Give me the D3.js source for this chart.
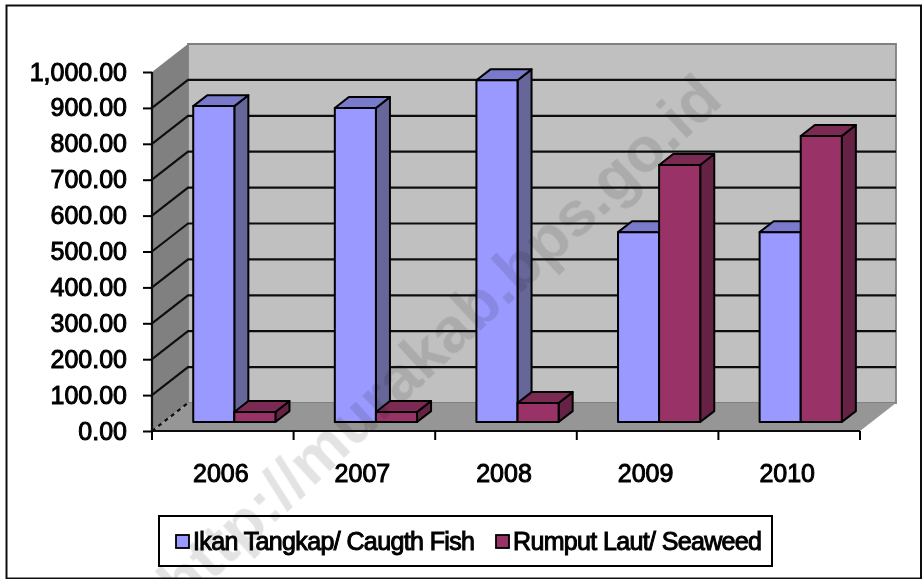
<!DOCTYPE html>
<html>
<head>
<meta charset="utf-8">
<script src="https://cdn.jsdelivr.net/npm/d3@7"></script>
<style>
  html, body { margin: 0; padding: 0; background: #fff; }
  svg { display: block; }
  text { font-family: "Liberation Sans", Arial, sans-serif; }
</style>
</head>
<body>
<div id="chart"></div>
<script>
// values
var categories = ['2006', '2007', '2008', '2009', '2010'];
var seriesNames = ['Ikan Tangkap/ Caugth Fish', 'Rumput Laut/ Seaweed'];
var caughtFish = [880, 875, 952, 529, 529];
var seaweed = [28, 28, 53, 716, 797];
var yTicks = [0, 100, 200, 300, 400, 500, 600, 700, 800, 900, 1000];

var width = 922, height = 579;
var plot = {left: 152, right: 860, top: 72, bottom: 431};
var depth = {dx: 36, dy: -28};      // offset of the back wall
var barDepth = {from: 0.32, to: 0.71};

var colors = [
  {front: '#9999ff', side: '#666699', top: '#7a7acc'},
  {front: '#993366', side: '#662244', top: '#7a2952'}
];

var root = d3.select('#chart').append('svg')
  .attr('width', width)
  .attr('height', height);

// the reference is a slightly soft screenshot
root.append('defs').append('filter')
  .attr('id', 'soft')
  .attr('filterUnits', 'userSpaceOnUse')
  .attr('x', 0).attr('y', 0).attr('width', width).attr('height', height)
  .append('feGaussianBlur').attr('stdDeviation', 0.45);

var svg = root.append('g').attr('filter', 'url(#soft)');

var x = d3.scaleBand().domain(categories).range([plot.left, plot.right]).paddingInner(0).paddingOuter(0);
var y = d3.scaleLinear().domain([0, 1000]).range([plot.bottom, plot.top]);
var inner = d3.scaleBand().domain([0, 1]).range([29.7, x.bandwidth() - 29.7]);

// project a point (px x, value, depth 0..1) on the oblique view
function pt(px, value, d) {
  return [px + depth.dx * d, y(value) + depth.dy * d];
}
function poly(points) {
  return d3.line()(points) + 'Z';
}
function heavy(sel) {
  // the labels are regular Arial thickened by the screenshot
  return sel.attr('fill', '#000')
    .attr('stroke', '#000')
    .attr('stroke-width', 1)
    .style('font-size', '25px')
    .style('font-weight', 'normal');
}

// outer frame
svg.append('rect').attr('width', width).attr('height', height).attr('fill', '#fff');
svg.append('rect')
  .attr('x', 6.5).attr('y', 5.5)
  .attr('width', 914.5).attr('height', 573)
  .attr('fill', '#fff').attr('stroke', '#111').attr('stroke-width', 2);

// walls and floor
var walls = svg.append('g');
walls.append('path')
  .attr('d', poly([pt(plot.left, 1000, 1), pt(plot.right, 1000, 1), pt(plot.right, 0, 1), pt(plot.left, 0, 1)]))
  .attr('fill', '#c0c0c0').attr('stroke', '#808080').attr('stroke-width', 1.8);
walls.append('path')
  .attr('d', poly([pt(plot.left, 1000, 0), pt(plot.left, 1000, 1), pt(plot.left, 0, 1), pt(plot.left, 0, 0)]))
  .attr('fill', '#808080');
walls.append('path')
  .attr('d', poly([pt(plot.left, 0, 0), pt(plot.left, 0, 1), pt(plot.right, 0, 1), pt(plot.right, 0, 0)]))
  .attr('fill', '#969696');

// gridlines on the two walls
var grid = svg.append('g').attr('fill', 'none').attr('stroke', '#111').attr('stroke-width', 2.2);
yTicks.slice(1, -1).forEach(function(v) {
  grid.append('path').attr('d', d3.line()([pt(plot.left, v, 0), pt(plot.left, v, 1), pt(plot.right, v, 1)]));
});
grid.append('path')
  .attr('d', d3.line()([pt(plot.left, 0, 0), pt(plot.left, 0, 1)]))
  .attr('stroke-dasharray', '4 4');

// bars
var seriesValues = [caughtFish, seaweed];
var bars = svg.append('g').attr('stroke', '#000').attr('stroke-width', 2).attr('stroke-linejoin', 'round');
categories.forEach(function(cat, i) {
  [0, 1].forEach(function(s) {
    var v = seriesValues[s][i];
    var x0 = x(cat) + inner(s), x1 = x0 + inner.bandwidth();
    var d0 = barDepth.from, d1 = barDepth.to;
    var g = bars.append('g');
    g.append('path')
      .attr('fill', colors[s].side)
      .attr('d', poly([pt(x1, 0, d0), pt(x1, 0, d1), pt(x1, v, d1), pt(x1, v, d0)]));
    g.append('path')
      .attr('fill', colors[s].top)
      .attr('d', poly([pt(x0, v, d0), pt(x0, v, d1), pt(x1, v, d1), pt(x1, v, d0)]));
    g.append('path')
      .attr('fill', colors[s].front)
      .attr('d', poly([pt(x0, 0, d0), pt(x1, 0, d0), pt(x1, v, d0), pt(x0, v, d0)]));
  });
});

// axes
var yAxis = d3.axisLeft(y).tickValues(yTicks).tickFormat(d3.format(',.2f')).tickSize(9).tickPadding(16);
var xAxis = d3.axisBottom(x).tickSize(0).tickPadding(33);

var gy = svg.append('g').attr('transform', 'translate(' + plot.left + ',0)').call(yAxis);
var gx = svg.append('g').attr('transform', 'translate(0,' + plot.bottom + ')').call(xAxis);
[gy, gx].forEach(function(g) {
  g.selectAll('.domain').attr('stroke', '#111').attr('stroke-width', 2.2);
  g.selectAll('line').attr('stroke', '#000').attr('stroke-width', 2);
  heavy(g.selectAll('text'));
});
gy.selectAll('.domain').attr('d', d3.line()([[0, plot.top], [0, plot.bottom]]));
gx.selectAll('.domain').attr('d', d3.line()([[plot.left, 0], [plot.right, 0]]));
gx.selectAll('.tick text').attr('dx', -2);

// category separators hang on the band edges
gx.append('g').selectAll('line')
  .data(categories.concat(['end']))
  .join('line')
  .attr('x1', function(d) { return d === 'end' ? plot.right : x(d); })
  .attr('x2', function(d) { return d === 'end' ? plot.right : x(d); })
  .attr('y1', 0).attr('y2', 9)
  .attr('stroke', '#000').attr('stroke-width', 2);

// legend
var legend = svg.append('g');
legend.append('rect')
  .attr('x', 159).attr('y', 516).attr('width', 613).attr('height', 50)
  .attr('fill', '#fff').attr('stroke', '#000').attr('stroke-width', 2);
var legendX = [176, 496];
var legendLen = [282, 249];
seriesNames.forEach(function(name, s) {
  legend.append('rect')
    .attr('x', legendX[s]).attr('y', 535).attr('width', 13).attr('height', 13)
    .attr('fill', colors[s].front).attr('stroke', '#000').attr('stroke-width', 1.8);
  legend.append('text')
    .attr('x', legendX[s] + 17).attr('y', 550)
    .attr('textLength', legendLen[s])
    .call(heavy)
    .text(name);
});

// watermark
svg.append('text')
  .attr('transform', 'translate(183,608) rotate(-43)')
  .attr('fill', '#000')
  .attr('fill-opacity', 0.11)
  .style('font-size', '63.5px')
  .style('font-weight', 'bold')
  .text('http://murakab.bps.go.id');
</script>
</body>
</html>
